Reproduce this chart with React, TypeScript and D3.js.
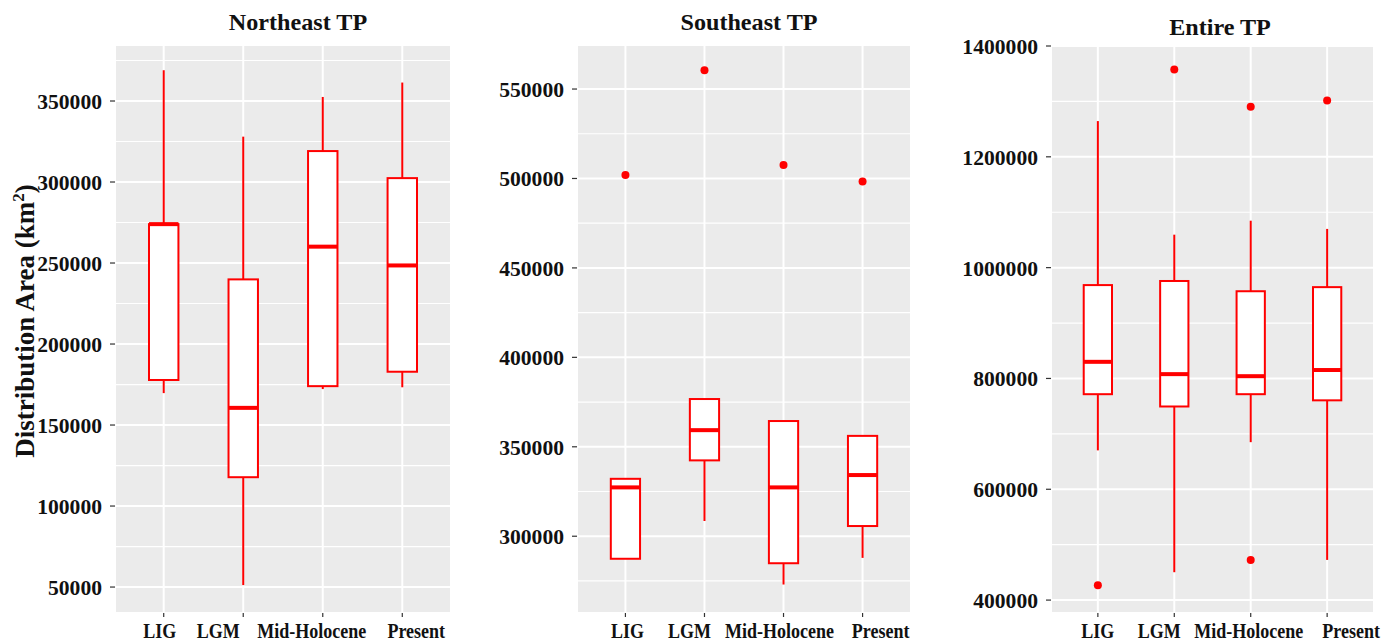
import React from "react";
import * as d3 from "d3";

// categories shared by the three panels
const categories = ["LIG", "LGM", "Mid-Holocene", "Present"];

// box stats per category: [lower whisker, Q1, median, Q3, upper whisker]
const northeastStats = [
  [169700, 177800, 274000, 273000, 369000],
  [51200, 117800, 160600, 239900, 328000],
  [172200, 174000, 260100, 319100, 352500],
  [173300, 182900, 248500, 302400, 361400],
];
const northeastOutliers = [[], [], [], []];

const southeastStats = [
  [287400, 287400, 327300, 332100, 332100],
  [308500, 342400, 359300, 376700, 376700],
  [273000, 284900, 327300, 364400, 364400],
  [287900, 305700, 334200, 356100, 356100],
];
const southeastOutliers = [[501900], [560500], [507600], [498300]];

const entireStats = [
  [670200, 771600, 830000, 968500, 1264500],
  [450300, 749400, 807800, 975900, 1059500],
  [685000, 771600, 804100, 957400, 1084700],
  [472500, 760500, 815200, 964800, 1069900],
];
const entireOutliers = [[426600], [1357800], [1290500, 472500], [1301600]];

const northeastTicks = [50000, 100000, 150000, 200000, 250000, 300000, 350000];
const southeastTicks = [300000, 350000, 400000, 450000, 500000, 550000];
const entireTicks = [400000, 600000, 800000, 1000000, 1200000, 1400000];

const FONT = "'Liberation Serif', 'Times New Roman', serif";
const RED = "#ff0000";

type PanelProps = {
  title: string;
  titleX: number;
  titleY: number;
  x0: number;
  x1: number;
  top: number;
  bottom: number;
  domain: [number, number];
  ticks: number[];
  stats: number[][];
  outliers: number[][];
  labelNudge: number[];
};

function Panel(p: PanelProps) {
  const y = d3.scaleLinear().domain(p.domain).range([p.bottom, p.top]);
  const x = d3.scalePoint<string>().domain(categories).range([p.x0, p.x1]).padding(0.6);
  const step = x.step();
  const bw = step * 0.37;
  const gap = p.ticks[1] - p.ticks[0];
  const minors: number[] = [];
  for (let v = p.ticks[0] - gap / 2; v <= p.domain[1]; v += gap) {
    if (v >= p.domain[0]) minors.push(v);
  }

  return (
    <g>
      <rect x={p.x0} y={p.top} width={p.x1 - p.x0} height={p.bottom - p.top} fill="#ebebeb" />
      {minors.map((v) => (
        <line key={"mn" + v} x1={p.x0} x2={p.x1} y1={y(v)} y2={y(v)} stroke="#fff" strokeWidth={1.2} />
      ))}
      {p.ticks.map((v) => (
        <line key={"mj" + v} x1={p.x0} x2={p.x1} y1={y(v)} y2={y(v)} stroke="#fff" strokeWidth={2} />
      ))}
      {categories.map((c) => (
        <line key={"vx" + c} x1={x(c)} x2={x(c)} y1={p.top} y2={p.bottom} stroke="#fff" strokeWidth={2} />
      ))}

      {p.stats.map((s, i) => {
        const cx = x(categories[i]) as number;
        const hi = Math.max(s[3], s[2]);
        return (
          <g key={"box" + i}>
            <line x1={cx} x2={cx} y1={y(s[0])} y2={y(s[1])} stroke={RED} strokeWidth={2} />
            <line x1={cx} x2={cx} y1={y(s[3])} y2={y(s[4])} stroke={RED} strokeWidth={2} />
            <rect
              x={cx - bw / 2}
              y={y(hi)}
              width={bw}
              height={y(s[1]) - y(hi)}
              fill="#fff"
              stroke={RED}
              strokeWidth={2}
            />
            <line x1={cx - bw / 2} x2={cx + bw / 2} y1={y(s[2])} y2={y(s[2])} stroke={RED} strokeWidth={4} />
            {p.outliers[i].map((o, j) => (
              <circle key={j} cx={cx} cy={y(o)} r={4} fill={RED} />
            ))}
          </g>
        );
      })}

      {p.ticks.map((v) => (
        <g key={"yt" + v}>
          <line x1={p.x0 - 6} x2={p.x0 - 1} y1={y(v)} y2={y(v)} stroke="#333" strokeWidth={1.2} />
          <text
            transform={`translate(${p.x0 - 14},${y(v) + 8}) scale(1.03,1)`}
            textAnchor="end"
            fontFamily={FONT}
            fontWeight="bold"
            fontSize={21}
            fill="#111"
          >
            {v}
          </text>
        </g>
      ))}
      {categories.map((c, i) => (
        <g key={"xt" + c}>
          <line x1={x(c)} x2={x(c)} y1={p.bottom + 1} y2={p.bottom + 5} stroke="#333" strokeWidth={1.2} />
          <text
            transform={`translate(${(x(c) as number) + p.labelNudge[i]},638) scale(0.9,1)`}
            textAnchor="middle"
            fontFamily={FONT}
            fontWeight="bold"
            fontSize={20}
            fill="#111"
          >
            {c}
          </text>
        </g>
      ))}
      <text
        transform={`translate(${p.titleX},${p.titleY}) scale(1.05,1)`}
        textAnchor="middle"
        fontFamily={FONT}
        fontWeight="bold"
        fontSize={23}
        fill="#111"
      >
        {p.title}
      </text>
    </g>
  );
}

export default function App() {
  return (
    <svg
      width={1396}
      height={641}
      style={{ position: "absolute", left: 0, top: 0, background: "#fff" }}
    >
      <rect width={1396} height={641} fill="#fff" />
      <Panel
        title="Northeast TP"
        titleX={298}
        titleY={30}
        x0={116}
        x1={450}
        top={46}
        bottom={612}
        domain={[34600, 383950]}
        ticks={northeastTicks}
        stats={northeastStats}
        outliers={northeastOutliers}
        labelNudge={[-4, -25, -11, 14]}
      />
      <Panel
        title="Southeast TP"
        titleX={749}
        titleY={30}
        x0={578}
        x1={910}
        top={46}
        bottom={612}
        domain={[257640, 574060]}
        ticks={southeastTicks}
        stats={southeastStats}
        outliers={southeastOutliers}
        labelNudge={[2, -15, -4, 18]}
      />
      <Panel
        title="Entire TP"
        titleX={1220}
        titleY={35}
        x0={1052}
        x1={1373}
        top={46}
        bottom={612}
        domain={[378500, 1400000]}
        ticks={entireTicks}
        stats={entireStats}
        outliers={entireOutliers}
        labelNudge={[0, -15, -2, 24]}
      />
      <text
        transform="translate(34,321) rotate(-90)"
        textAnchor="middle"
        fontFamily={FONT}
        fontWeight="bold"
        fontSize={27}
        fill="#111"
      >
        Distribution Area (km
        <tspan fontSize={17} dy={-10}>2</tspan>
        <tspan dy={10}>)</tspan>
      </text>
    </svg>
  );
}
